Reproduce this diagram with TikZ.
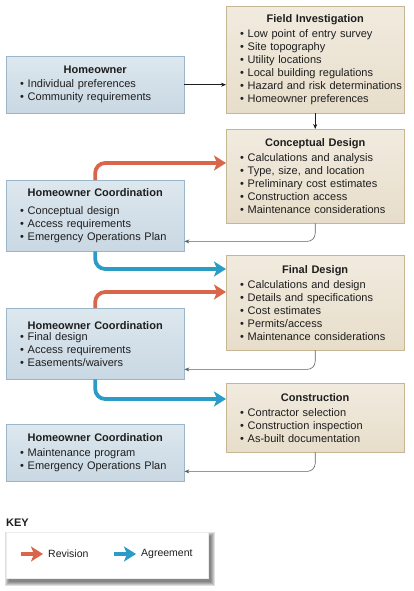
\documentclass[tikz,border=0pt]{standalone}
\usepackage{fontspec}
\setmainfont{Liberation Sans}
\usetikzlibrary{arrows.meta, backgrounds}

\definecolor{blueline}{HTML}{9BB6C9}
\definecolor{bluetop}{HTML}{DDE7EE}
\definecolor{bluebot}{HTML}{C9D8E3}
\definecolor{tanline}{HTML}{C7B694}
\definecolor{tantop}{HTML}{F1EBDF}
\definecolor{tanbot}{HTML}{E7DDCA}
\definecolor{revred}{HTML}{D9664B}
\definecolor{agrblue}{HTML}{2A9CC6}
\definecolor{ink}{HTML}{1E1E1E}

\newcommand{\boxhead}[2][2pt]{\noindent{\centering\bfseries #2\par}\vspace{#1}}
\newcommand{\itm}[1]{\noindent\hspace*{5pt}\mbox{\textbullet\ #1}\par}

\tikzset{
  owner/.style={draw=blueline, top color=bluetop, bottom color=bluebot, text=ink,
    anchor=north west, text width=160pt, inner xsep=9pt, minimum width=178pt,
    font=\fontsize{11}{13}\selectfont},
  task/.style={owner, draw=tanline, top color=tantop, bottom color=tanbot},
  flow/.style={draw=ink, line width=0.6pt, -{Stealth[length=5pt,width=4pt]}},
  back/.style={flow, draw=gray!75!black, rounded corners=8pt},
  revision/.style={draw=revred, line width=3.8pt, rounded corners=10pt,
    -{Stealth[length=12pt,width=15pt,inset=3pt]}},
  agreement/.style={revision, draw=agrblue},
  keytext/.style={anchor=west, inner sep=0, text=ink, font=\fontsize{10.5}{12}\selectfont}
}

\begin{document}
\begin{tikzpicture}[x=1pt,y=-1pt]
\useasboundingbox (0,0) rectangle (413,591);

% right column
\node[task, minimum height=107pt] (field) at (226,6) {\boxhead{Field Investigation}
  \itm{Low point of entry survey}\itm{Site topography}\itm{Utility locations}
  \itm{Local building regulations}\itm{Hazard and risk determinations}\itm{Homeowner preferences}};
\node[task, minimum height=94pt] (concept) at (226,129) {\boxhead{Conceptual Design}
  \itm{Calculations and analysis}\itm{Type, size, and location}\itm{Preliminary cost estimates}
  \itm{Construction access}\itm{Maintenance considerations}};
\node[task, minimum height=95pt] (final) at (226,255) {\boxhead{Final Design}
  \itm{Calculations and design}\itm{Details and specifications}\itm{Cost estimates}
  \itm{Permits/access}\itm{Maintenance considerations}};
\node[task, minimum height=69pt] (constr) at (226,383) {\boxhead{Construction}
  \itm{Contractor selection}\itm{Construction inspection}\itm{As-built documentation}};

% left column
\node[owner, minimum height=57pt] (home) at (6,56) {\boxhead[1pt]{Homeowner}
  \itm{Individual preferences}\itm{Community requirements}};
\node[owner, minimum height=71pt] (hc1) at (6,180) {\boxhead[5pt]{Homeowner Coordination}
  \itm{Conceptual design}\itm{Access requirements}\itm{Emergency Operations Plan}};
\node[owner, minimum height=71pt] (hc2) at (6,308) {\boxhead[-2pt]{Homeowner Coordination}
  \itm{Final design}\itm{Access requirements}\itm{Easements/waivers}};
\node[owner, minimum height=57pt] (hc3) at (6,424) {\boxhead[2pt]{Homeowner Coordination}
  \itm{Maintenance program}\itm{Emergency Operations Plan}};

% thin connectors
\draw[flow] (home.east) -- (home.east -| field.west);
\draw[flow] (field.south) -- (concept.north);
\draw[back] (concept.south) |- ([yshift=10pt]hc1.south east);
\draw[back] (final.south) |- ([yshift=10pt]hc2.south east);
\draw[back] (constr.south) |- ([yshift=10pt]hc3.south east);

% revision / agreement
\draw[revision] (hc1.north) |- ([yshift=-34pt]concept.north west);
\draw[agreement] (hc1.south) |- ([yshift=-14pt]final.north west);
\draw[revision] (hc2.north) |- ([yshift=-37pt]final.north west);
\draw[agreement] (hc2.south) |- ([yshift=-16pt]constr.north west);

% key
\node[anchor=base west, inner sep=0, font=\fontsize{11}{13}\selectfont\bfseries, text=ink] (keyhead) at (6,526) {KEY};
\node[anchor=north west, fill=white, draw=gray!15, minimum width=202pt, minimum height=46pt] (key) at (6,532) {};
\begin{scope}[on background layer]
\foreach \b in {0,1,...,4}
  \fill[black, opacity=0.12] ([xshift=3pt-\b pt, yshift=-4pt-\b pt]key.south west)
    rectangle ([xshift=3pt+\b pt, yshift=-4pt+\b pt]key.north east);
\end{scope}
\coordinate (revstart) at (21,554);
\coordinate (agrstart) at (114,554);
\node[keytext] (revtxt) at (48,554) {Revision};
\node[keytext] (agrtxt) at (141,554) {Agreement};
\draw[revision] (revstart) -- ([xshift=-5pt]revtxt.west);
\draw[agreement] (agrstart) -- ([xshift=-5pt]agrtxt.west);
\end{tikzpicture}
\end{document}
